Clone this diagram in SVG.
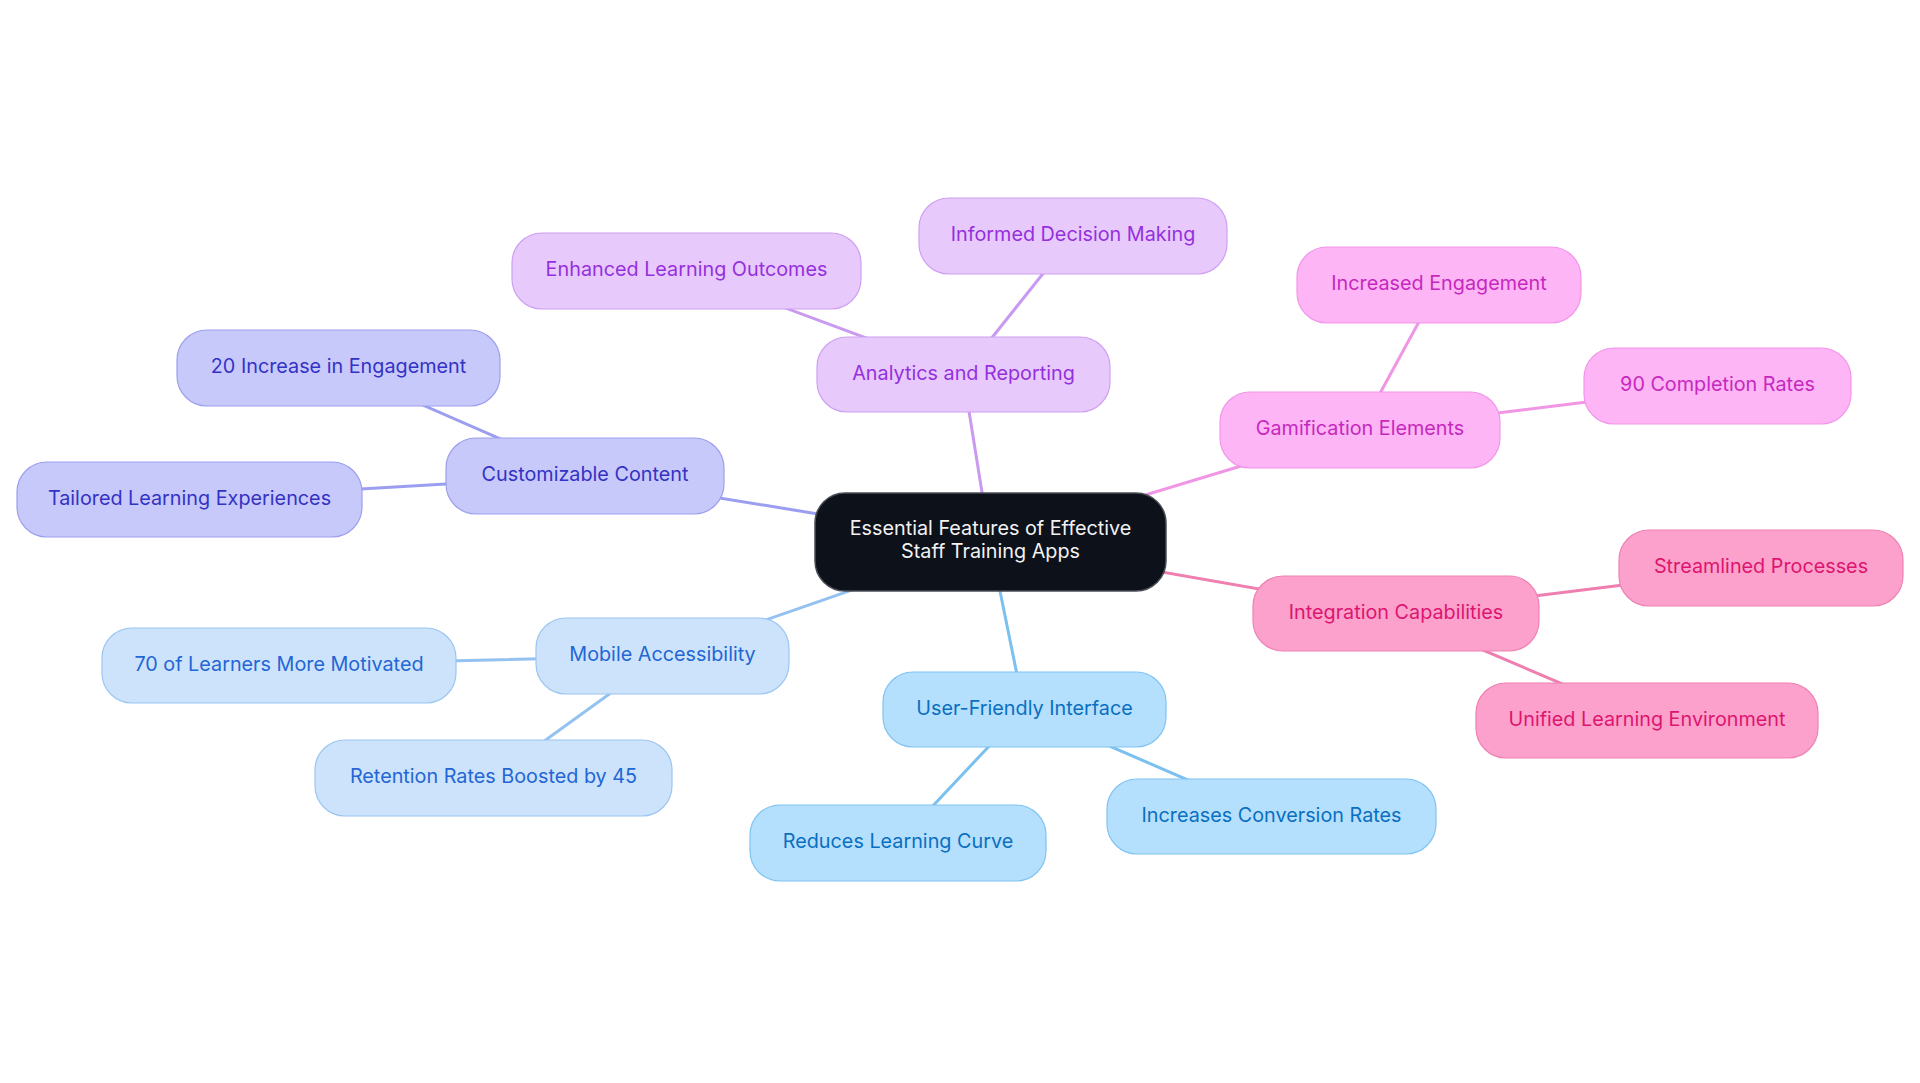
<svg xmlns="http://www.w3.org/2000/svg" width="1920" height="1083" viewBox="0 0 1920 1083">
<style>
  text { font-family: Inter, "Noto Sans", "Liberation Sans", sans-serif; text-anchor: middle; }
  .lbl { font-size: 19.8px; }
  .root rect { fill: #0c111a; stroke: #4a4f57; stroke-width: 1.5; }
  .root text { fill: #f2f2f2; font-size: 19.8px; }
  .n rect { stroke-width: 1.2; }
  .c1 rect { fill: #c8c9fb; stroke: #9c9fee; } .c1 text { fill: #3432c4; }
  .c2 rect { fill: #e7c9fc; stroke: #cfa0f2; } .c2 text { fill: #9530dc; }
  .c3 rect { fill: #fdb5f5; stroke: #f296ea; } .c3 text { fill: #c628bf; }
  .c4 rect { fill: #fca1cb; stroke: #ee82b4; } .c4 text { fill: #dc1570; }
  .c5 rect { fill: #cde3fb; stroke: #9cc6f2; } .c5 text { fill: #2366d4; }
  .c6 rect { fill: #b4dffd; stroke: #80c4f2; } .c6 text { fill: #0a6fc0; }
  .e { stroke-width: 3; fill: none; stroke-linecap: round; }
  .e1 { stroke: #9b9ef0; } .e2 { stroke: #c99af0; } .e3 { stroke: #f195e5; }
  .e4 { stroke: #ee7fb0; } .e5 { stroke: #94c2f0; } .e6 { stroke: #7cc0f0; }
</style>
<rect width="1920" height="1083" fill="#ffffff"/>
<g id="connectors">
  <line class="e e1" x1="990" y1="542" x2="585" y2="476"/>
  <line class="e e1" x1="585" y1="476" x2="338" y2="368"/>
  <line class="e e1" x1="585" y1="476" x2="189" y2="499"/>
  <line class="e e2" x1="990" y1="542" x2="963" y2="374"/>
  <line class="e e2" x1="963" y1="374" x2="686" y2="271"/>
  <line class="e e2" x1="963" y1="374" x2="1073" y2="236"/>
  <line class="e e3" x1="990" y1="542" x2="1360" y2="430"/>
  <line class="e e3" x1="1360" y1="430" x2="1439" y2="285"/>
  <line class="e e3" x1="1360" y1="430" x2="1717" y2="386"/>
  <line class="e e4" x1="990" y1="542" x2="1396" y2="613"/>
  <line class="e e4" x1="1396" y1="613" x2="1761" y2="568"/>
  <line class="e e4" x1="1396" y1="613" x2="1647" y2="720"/>
  <line class="e e5" x1="990" y1="542" x2="662" y2="656"/>
  <line class="e e5" x1="662" y1="656" x2="279" y2="665"/>
  <line class="e e5" x1="662" y1="656" x2="493" y2="778"/>
  <line class="e e6" x1="990" y1="542" x2="1024" y2="709"/>
  <line class="e e6" x1="1024" y1="709" x2="898" y2="843"/>
  <line class="e e6" x1="1024" y1="709" x2="1271" y2="816"/>
</g>
<g id="root" class="root">
  <rect x="815" y="493" width="351" height="98" rx="30"/>
  <text x="990.5" y="535">Essential Features of Effective</text>
  <text x="990.5" y="558">Staff Training Apps</text>
</g>
<g id="customizable-content" class="n c1"><rect x="446" y="438" width="278" height="76" rx="30"/><text class="lbl" x="585" y="481">Customizable Content</text></g>
<g id="increase-engagement-20" class="n c1"><rect x="177" y="330" width="323" height="76" rx="30"/><text class="lbl" x="338.5" y="373">20 Increase in Engagement</text></g>
<g id="tailored-learning" class="n c1"><rect x="17" y="462" width="345" height="75" rx="30"/><text class="lbl" x="189.5" y="504.5">Tailored Learning Experiences</text></g>
<g id="analytics-reporting" class="n c2"><rect x="817" y="337" width="293" height="75" rx="30"/><text class="lbl" x="963.5" y="379.5">Analytics and Reporting</text></g>
<g id="enhanced-outcomes" class="n c2"><rect x="512" y="233" width="349" height="76" rx="30"/><text class="lbl" x="686.5" y="276">Enhanced Learning Outcomes</text></g>
<g id="informed-decision" class="n c2"><rect x="919" y="198" width="308" height="76" rx="30"/><text class="lbl" x="1073" y="241">Informed Decision Making</text></g>
<g id="gamification" class="n c3"><rect x="1220" y="392" width="280" height="76" rx="30"/><text class="lbl" x="1360" y="435">Gamification Elements</text></g>
<g id="increased-engagement" class="n c3"><rect x="1297" y="247" width="284" height="76" rx="30"/><text class="lbl" x="1439" y="290">Increased Engagement</text></g>
<g id="completion-rates" class="n c3"><rect x="1584" y="348" width="267" height="76" rx="30"/><text class="lbl" x="1717.5" y="391">90 Completion Rates</text></g>
<g id="integration" class="n c4"><rect x="1253" y="576" width="286" height="75" rx="30"/><text class="lbl" x="1396" y="618.5">Integration Capabilities</text></g>
<g id="streamlined" class="n c4"><rect x="1619" y="530" width="284" height="76" rx="30"/><text class="lbl" x="1761" y="573">Streamlined Processes</text></g>
<g id="unified" class="n c4"><rect x="1476" y="683" width="342" height="75" rx="30"/><text class="lbl" x="1647" y="725.5">Unified Learning Environment</text></g>
<g id="mobile" class="n c5"><rect x="536" y="618" width="253" height="76" rx="30"/><text class="lbl" x="662.5" y="661">Mobile Accessibility</text></g>
<g id="learners-motivated" class="n c5"><rect x="102" y="628" width="354" height="75" rx="30"/><text class="lbl" x="279" y="670.5">70 of Learners More Motivated</text></g>
<g id="retention" class="n c5"><rect x="315" y="740" width="357" height="76" rx="30"/><text class="lbl" x="493.5" y="783">Retention Rates Boosted by 45</text></g>
<g id="user-friendly" class="n c6"><rect x="883" y="672" width="283" height="75" rx="30"/><text class="lbl" x="1024.5" y="714.5">User-Friendly Interface</text></g>
<g id="reduces-curve" class="n c6"><rect x="750" y="805" width="296" height="76" rx="30"/><text class="lbl" x="898" y="848">Reduces Learning Curve</text></g>
<g id="conversion" class="n c6"><rect x="1107" y="779" width="329" height="75" rx="30"/><text class="lbl" x="1271.5" y="821.5">Increases Conversion Rates</text></g>
</svg>
